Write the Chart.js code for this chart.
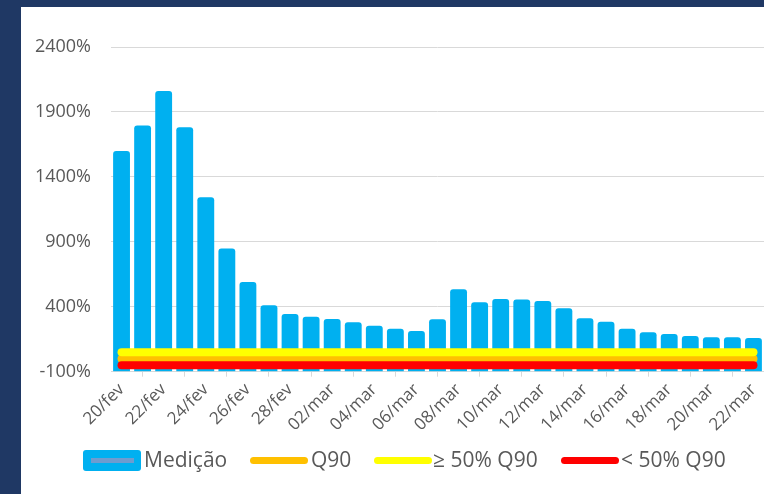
<!DOCTYPE html>
<html>
<head>
<meta charset="utf-8">
<script src="https://cdn.jsdelivr.net/npm/chart.js@4/dist/chart.umd.min.js"></script>
<style>
  html, body { margin: 0; padding: 0; }
  body { width: 764px; height: 494px; background: #1F3864; position: relative; overflow: hidden; }
  #wrap { position: absolute; left: 21px; top: 7px; width: 743px; height: 487px; background: #ffffff; }
  #c { position: absolute; left: 0; top: 0; }
  .leg { position: absolute; font-family: "Open Sans", sans-serif; font-size: 21px; color: #595959; line-height: 21px; white-space: nowrap; }
  .box { position: absolute; width: 58px; height: 21px; background: #00B0F0; border-radius: 3px; }
  .box i { position: absolute; left: 8px; top: 8px; width: 43px; height: 5px; background: #6E9CCF; }
  .ln { position: absolute; width: 58px; height: 7px; border-radius: 3.5px; }
</style>
</head>
<body>
<div id="wrap">
  <canvas id="c" width="743" height="487"></canvas>
</div>
<div id="legend"></div>
<script>
// ---- data ----
const categories = ["20/fev","21/fev","22/fev","23/fev","24/fev","25/fev","26/fev","27/fev","28/fev",
  "01/mar","02/mar","03/mar","04/mar","05/mar","06/mar","07/mar","08/mar","09/mar","10/mar","11/mar",
  "12/mar","13/mar","14/mar","15/mar","16/mar","17/mar","18/mar","19/mar","20/mar","21/mar","22/mar"];
const medicao = [1600,1795,2061,1782,1244,849,590,411,345,323,305,280,254,231,213,303,
  534,434,459,456,444,388,311,285,231,203,190,175,165,165,159];
const q90 = [0,0,0,0,0,0,0,0,0,0,0,0,0,0,0,0,0,0,0,0,0,0,0,0,0,0,0,0,0,0,0];
const acima50 = [50,50,50,50,50,50,50,50,50,50,50,50,50,50,50,50,50,50,50,50,50,50,50,50,50,50,50,50,50,50,50];
const abaixo50 = [-50,-50,-50,-50,-50,-50,-50,-50,-50,-50,-50,-50,-50,-50,-50,-50,-50,-50,-50,-50,-50,-50,-50,-50,-50,-50,-50,-50,-50,-50,-50];
const seriesNames = ["Medição", "Q90", "≥ 50% Q90", "< 50% Q90"];
const yMin = -100, yMax = 2400, yStep = 500;

// ---- legend (HTML) ----
const legendItems = [
  { name: seriesNames[0], type: 'box', color: '#00B0F0', x: 83, tx: 144 },
  { name: seriesNames[1], type: 'line', color: '#FFC000', x: 250, tx: 311 },
  { name: seriesNames[2], type: 'line', color: '#FFFF00', x: 374, tx: 433 },
  { name: seriesNames[3], type: 'line', color: '#FF0000', x: 561, tx: 621 }
];
const legendEl = document.getElementById('legend');
legendItems.forEach(it => {
  const sw = document.createElement('div');
  if (it.type === 'box') {
    sw.className = 'box';
    sw.style.left = it.x + 'px'; sw.style.top = '450px';
    sw.appendChild(document.createElement('i'));
  } else {
    sw.className = 'ln';
    sw.style.left = it.x + 'px'; sw.style.top = '457px';
    sw.style.background = it.color;
  }
  legendEl.appendChild(sw);
  const t = document.createElement('div');
  t.className = 'leg';
  t.style.left = it.tx + 'px'; t.style.top = '449px';
  t.textContent = it.name;
  legendEl.appendChild(t);
});

// ---- chart ----
const tickFontY = { family: "'Open Sans', sans-serif", size: 18 };
const tickFontX = { family: "'Open Sans', sans-serif", size: 17 };
const lineDs = (label, data, color, order) => ({
  type: 'line', label, data, borderColor: color, backgroundColor: color,
  borderWidth: 8, borderCapStyle: 'round', pointRadius: 0, pointHoverRadius: 0,
  tension: 0, fill: false, order
});

new Chart(document.getElementById('c'), {
  type: 'bar',
  data: {
    labels: categories,
    datasets: [
      { type: 'bar', label: seriesNames[0], data: medicao, backgroundColor: '#00B0F0',
        borderWidth: 0, borderRadius: 3, base: yMin,
        barPercentage: 0.8, categoryPercentage: 1.0, order: 10 },
      lineDs(seriesNames[1], q90, '#FFC000', 3),
      lineDs(seriesNames[2], acima50, '#FFFF00', 2),
      lineDs(seriesNames[3], abaixo50, '#FF0000', 1)
    ]
  },
  options: {
    responsive: false,
    devicePixelRatio: 1,
    animation: false,
    layout: { padding: { left: 0, right: 0, top: 40, bottom: 0 } },
    plugins: { legend: { display: false }, tooltip: { enabled: false } },
    scales: {
      x: {
        offset: true,
        grid: { display: true, drawOnChartArea: false, drawTicks: true, tickLength: 5, color: '#D9D9D9', offset: true },
        border: { display: true, color: '#D9D9D9', width: 1 },
        ticks: {
          autoSkip: false, minRotation: 45, maxRotation: 45, padding: 3,
          color: '#595959', font: tickFontX,
          callback: function (v, i) { return i % 2 === 0 ? categories[i] : null; }
        },
        afterFit: s => { s.height = 122.3; s.paddingLeft = 0; s.paddingRight = 0; }
      },
      y: {
        min: yMin, max: yMax,
        grid: { color: '#D9D9D9', lineWidth: 1, drawTicks: false },
        border: { display: false },
        ticks: { stepSize: yStep, padding: 20, color: '#595959', font: tickFontY,
          callback: v => v + '%' },
        afterFit: s => { s.width = 90; }
      }
    }
  }
});
</script>
</body>
</html>
